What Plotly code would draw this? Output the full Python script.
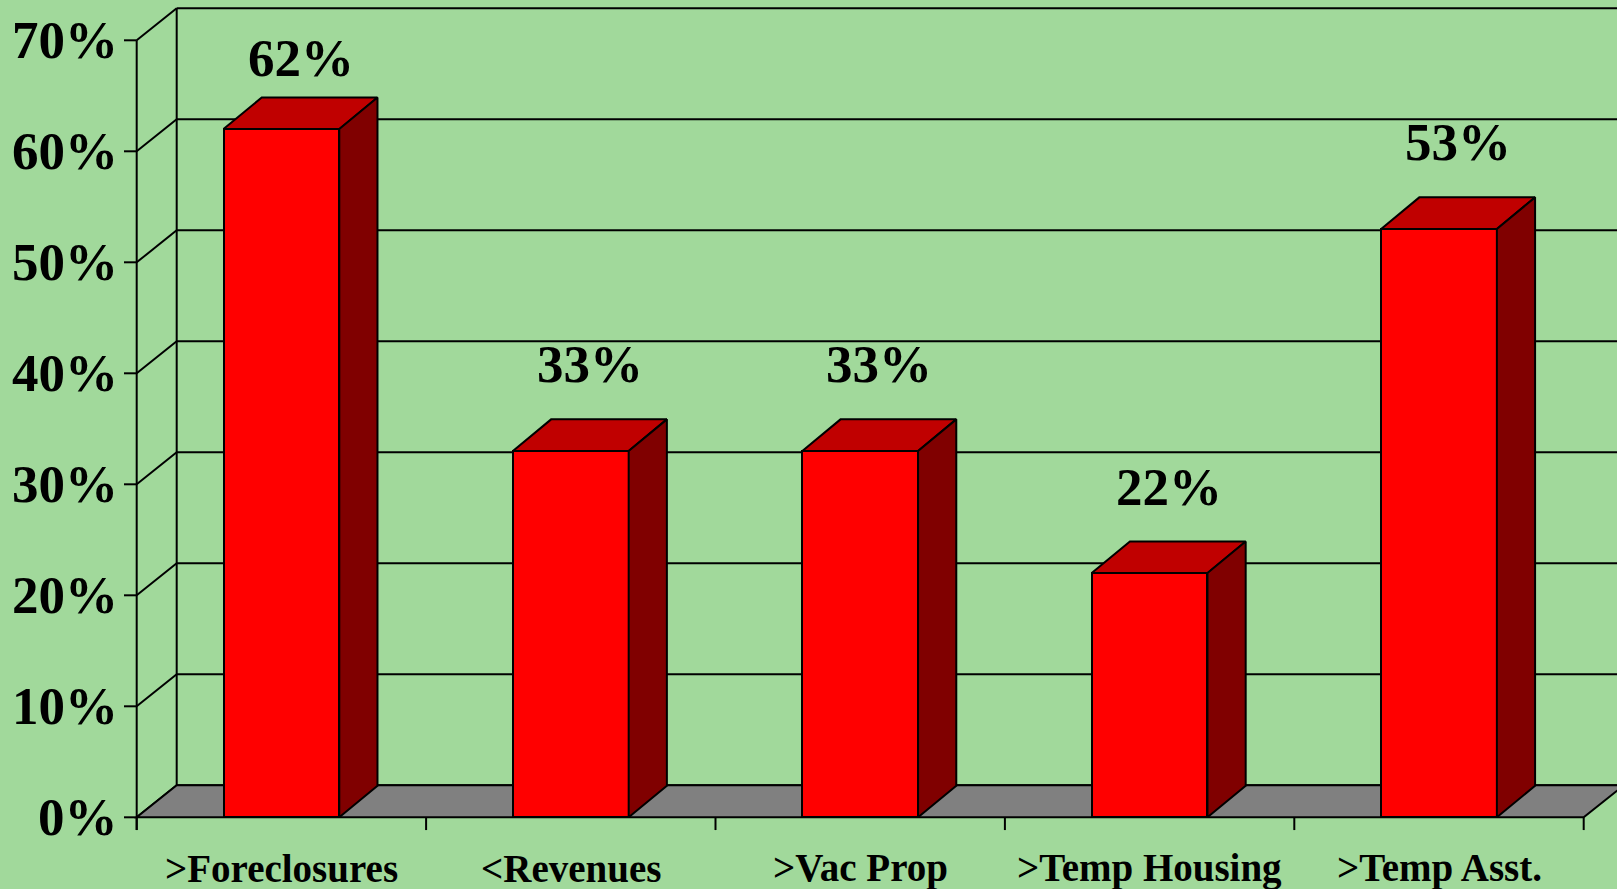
import plotly.graph_objects as go

# ---- data ----
categories = [">Foreclosures", "<Revenues", ">Vac Prop", ">Temp Housing", ">Temp Asst."]
values = [62, 33, 33, 22, 53]
tick_values = [0, 10, 20, 30, 40, 50, 60, 70]
tick_labels = ["0%", "10%", "20%", "30%", "40%", "50%", "60%", "70%"]

# ---- styling / geometry ----
BG = "#A1D99B"
FRONT = "#FF0000"
TOP = "#C00000"
SIDE = "#800000"
FLOOR = "#808080"
FONT = "Liberation Serif"
W, H = 1617, 889

DX, DY = 0.1382, 2.88      # wall depth (x units, % units)
BDX, BDY = 0.132, 2.85     # bar depth
BW = 0.4                   # bar front width
YMAX = 70
X0, X1 = -0.5, len(categories) - 0.5

fig = go.Figure()

shapes = []
lw = 2
for t in tick_values:
    shapes.append(dict(type="line", x0=X0, y0=t, x1=X0 + DX, y1=t + DY,
                       line=dict(color="black", width=lw), layer="below"))
    shapes.append(dict(type="line", x0=X0 + DX, y0=t + DY, x1=X1 + DX + 0.5, y1=t + DY,
                       line=dict(color="black", width=lw), layer="below"))
shapes.append(dict(type="line", x0=X0 + DX, y0=DY, x1=X0 + DX, y1=YMAX + DY,
                   line=dict(color="black", width=lw), layer="below"))
shapes.append(dict(type="path",
                   path=f"M {X0},0 L {X1},0 L {X1 + DX},{DY} L {X0 + DX},{DY} Z",
                   fillcolor=FLOOR, line=dict(color="black", width=lw), layer="below"))
shapes.append(dict(type="line", x0=X0, y0=-1.15, x1=X0, y1=YMAX,
                   line=dict(color="black", width=lw), layer="below"))
for t in tick_values:
    shapes.append(dict(type="line", x0=X0 - 0.044, y0=t, x1=X0, y1=t,
                       line=dict(color="black", width=lw), layer="below"))
for k in range(len(categories) + 1):
    shapes.append(dict(type="line", x0=X0 + k, y0=0, x1=X0 + k, y1=-1.15,
                       line=dict(color="black", width=lw), layer="below"))

xs = list(range(len(categories)))
fig.add_trace(go.Bar(x=xs, y=values, width=BW,
                     marker=dict(color=FRONT, line=dict(color="black", width=2)),
                     hoverinfo="skip"))

for x, v in zip(xs, values):
    xl, xr = x - BW / 2, x + BW / 2
    fig.add_trace(go.Scatter(
        x=[xl, xr, xr + BDX, xl + BDX, xl], y=[v, v, v + BDY, v + BDY, v],
        mode="lines", fill="toself", fillcolor=TOP,
        line=dict(color="black", width=2), hoverinfo="skip"))
    fig.add_trace(go.Scatter(
        x=[xr, xr + BDX, xr + BDX, xr, xr], y=[0, BDY, v + BDY, v, 0],
        mode="lines", fill="toself", fillcolor=SIDE,
        line=dict(color="black", width=2), hoverinfo="skip"))

annotations = []
for t, lab in zip(tick_values, tick_labels):
    annotations.append(dict(x=X0 - 0.058, y=t, text=lab, showarrow=False,
                            xanchor="right", yanchor="middle",
                            font=dict(family=FONT, size=53, color="black")))
for x, c in zip(xs, categories):
    annotations.append(dict(x=x, y=-4.6, text=c.replace("<", "&lt;").replace(">", "&gt;"),
                            showarrow=False, xanchor="center", yanchor="middle",
                            font=dict(family=FONT, size=39, color="black")))
for x, v in zip(xs, values):
    annotations.append(dict(x=x + BDX / 2, y=min(v + 7.8, 68.4), text=f"{v}%",
                            showarrow=False, xanchor="center", yanchor="middle",
                            font=dict(family=FONT, size=53, color="black")))

for a in annotations:
    a["font"]["weight"] = "bold"

x_left = X0 - 136.7 / 289.4
x_right = X0 + (W - 136.7) / 289.4
y_bottom = -(H - 817.3) / 11.1
y_top = 817.3 / 11.1

fig.update_layout(
    width=W, height=H,
    margin=dict(l=0, r=0, t=0, b=0),
    paper_bgcolor=BG, plot_bgcolor=BG,
    showlegend=False,
    xaxis=dict(range=[x_left, x_right], visible=False, fixedrange=True),
    yaxis=dict(range=[y_bottom, y_top], visible=False, fixedrange=True),
    shapes=shapes, annotations=annotations,
    bargap=0,
)

fig.write_html("out.html", config={"displayModeBar": False},
               post_script="document.body.style.margin='0';document.body.style.overflow='hidden';")
